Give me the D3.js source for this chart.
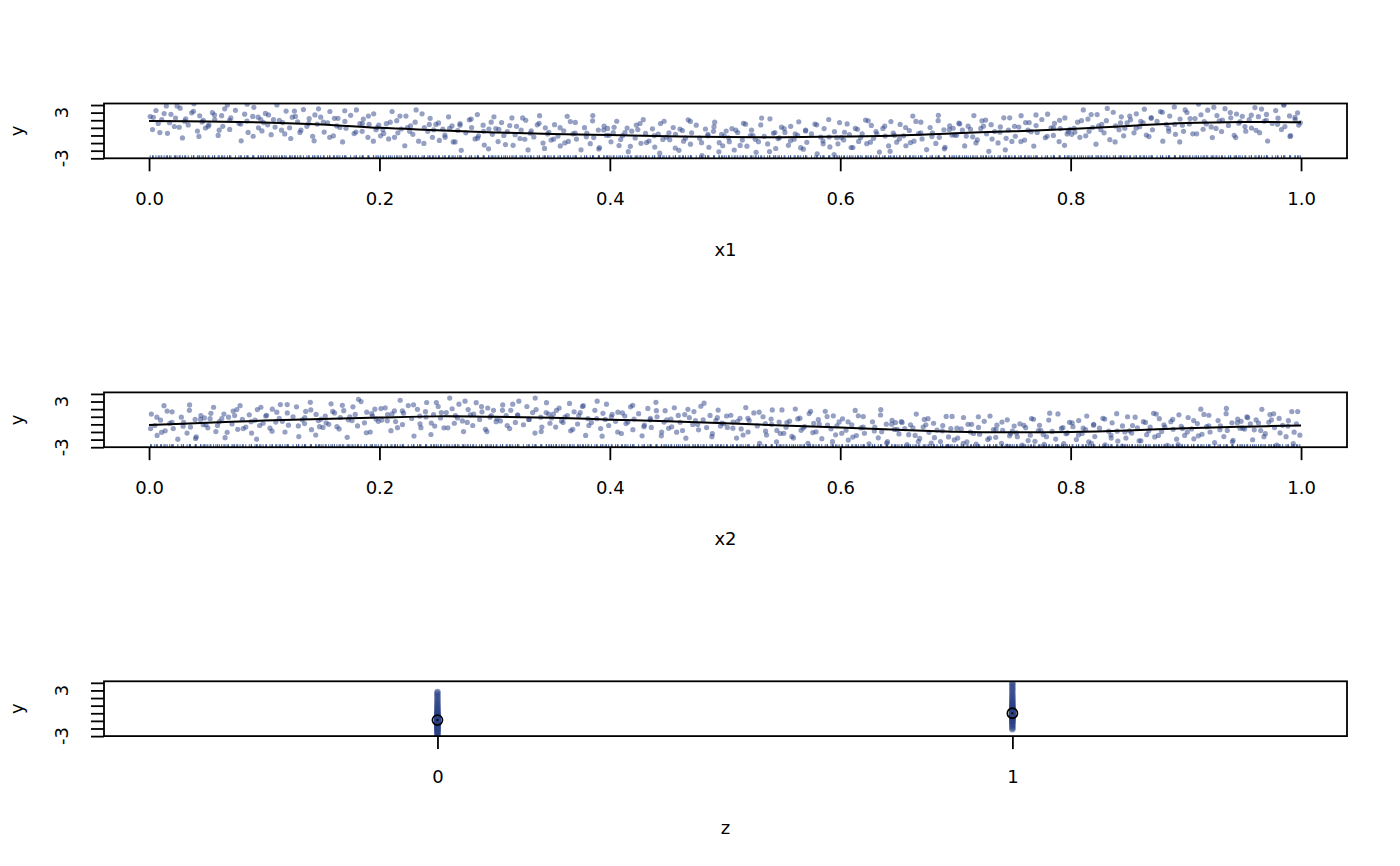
<!DOCTYPE html>
<html><head><meta charset="utf-8">
<script src="https://cdn.jsdelivr.net/npm/d3@7"></script>
<style>body{margin:0;background:#fff}svg{display:block}</style></head>
<body><svg id="c" width="1400" height="866"></svg>
<script>
// ---------- data ----------
const pts1 = [
[0.001,2.48],[0.003,0.78],[0.006,3.28],[0.008,1.58],[0.011,2.08],[0.015,3.88],[0.016,0.28],[0.019,2.78],[0.022,1.18],[0.023,2.28],[0.027,3.58],[0.029,-0.32],[0.031,1.88],[0.034,1.38],[0.037,2.98],[0.039,4.18],[0.042,0.58],[0.044,2.58],[0.046,1.78],[0.049,0.98],
[0.052,1.4],[0.055,3.0],[0.057,2.1],[0.060,0.0],[0.063,2.6],[0.064,1.2],[0.068,4.0],[0.070,0.8],[0.071,2.3],[0.075,3.3],[0.078,1.6],[0.080,-0.7],[0.083,2.8],[0.085,1.9],[0.086,0.4],[0.090,2.5],[0.091,3.7],[0.095,1.0],[0.097,2.1],[0.098,0.6],
[0.101,2.9],[0.103,1.4],[0.106,0.1],[0.108,2.1],[0.111,4.0],[0.115,0.7],[0.116,1.7],[0.119,3.2],[0.122,1.0],[0.123,-0.4],[0.127,2.5],[0.129,1.8],[0.131,0.4],[0.134,3.4],[0.137,1.2],[0.139,2.2],[0.142,-0.1],[0.144,2.7],[0.146,1.5],[0.149,2.4],
[0.152,0.45],[0.155,1.65],[0.157,3.15],[0.160,-0.05],[0.163,1.25],[0.164,2.25],[0.168,-0.85],[0.170,1.85],[0.171,0.95],[0.175,2.65],[0.178,0.25],[0.180,3.35],[0.183,1.55],[0.185,0.55],[0.186,2.15],[0.190,-0.25],[0.191,1.45],[0.195,2.85],[0.197,0.75],[0.198,1.05],
[0.201,-0.05],[0.203,0.75],[0.206,1.55],[0.208,-0.45],[0.211,3.15],[0.215,1.95],[0.216,0.35],[0.219,0.85],[0.222,-1.35],[0.223,2.55],[0.227,1.25],[0.229,0.15],[0.231,1.75],[0.234,-0.75],[0.237,2.85],[0.239,1.05],[0.242,0.55],[0.244,2.25],[0.246,-0.25],[0.249,1.45],
[0.252,-0.65],[0.255,0.85],[0.257,-0.25],[0.260,2.45],[0.263,1.25],[0.264,-0.85],[0.268,0.65],[0.270,1.55],[0.271,-1.95],[0.275,0.35],[0.278,2.05],[0.280,1.05],[0.283,-0.45],[0.285,2.75],[0.286,-0.05],[0.290,1.35],[0.291,-1.25],[0.295,0.85],[0.297,1.75],[0.298,0.15],
[0.301,0.9],[0.303,-0.8],[0.306,1.7],[0.308,0.0],[0.311,0.5],[0.315,2.3],[0.316,-1.3],[0.319,1.2],[0.322,-0.4],[0.323,0.7],[0.327,2.0],[0.329,-1.9],[0.331,0.3],[0.334,-0.2],[0.337,1.4],[0.339,2.6],[0.342,-1.0],[0.344,1.0],[0.346,0.2],[0.349,-0.6],
[0.352,1.42],[0.355,-0.08],[0.357,-1.38],[0.360,0.62],[0.363,2.52],[0.364,-0.78],[0.368,0.22],[0.370,1.72],[0.371,-0.48],[0.375,-1.88],[0.378,1.02],[0.380,0.32],[0.383,-1.08],[0.385,1.92],[0.386,-0.28],[0.390,0.72],[0.391,-1.58],[0.395,1.22],[0.397,0.02],[0.398,0.92],
[0.401,-0.83],[0.403,0.37],[0.406,1.87],[0.408,-1.33],[0.411,-0.03],[0.415,0.97],[0.416,-2.13],[0.419,0.57],[0.422,-0.33],[0.423,1.37],[0.427,-1.03],[0.429,2.07],[0.431,0.27],[0.434,-0.73],[0.437,0.87],[0.439,-1.53],[0.442,0.17],[0.444,1.57],[0.446,-0.53],[0.449,-0.23],
[0.452,-0.55],[0.455,1.05],[0.457,0.15],[0.460,-1.95],[0.463,0.65],[0.464,-0.75],[0.468,2.05],[0.470,-1.15],[0.471,0.35],[0.475,1.35],[0.478,-0.35],[0.480,-2.65],[0.483,0.85],[0.485,-0.05],[0.486,-1.55],[0.490,0.55],[0.491,1.75],[0.495,-0.95],[0.497,0.15],[0.498,-1.35],
[0.501,0.59],[0.503,-0.31],[0.506,0.89],[0.508,-1.91],[0.511,0.39],[0.515,-0.61],[0.516,1.59],[0.519,-1.41],[0.522,-0.01],[0.523,0.69],[0.527,-2.21],[0.529,-0.81],[0.531,1.39],[0.534,-0.11],[0.537,-1.11],[0.539,2.19],[0.542,0.29],[0.544,-1.71],[0.546,-0.41],[0.549,1.09],
[0.552,0.4],[0.555,-1.3],[0.557,1.2],[0.560,-0.5],[0.563,0.0],[0.564,1.8],[0.568,-1.8],[0.570,0.7],[0.571,-0.9],[0.575,0.2],[0.578,1.5],[0.580,-2.4],[0.583,-0.2],[0.585,-0.7],[0.586,0.9],[0.590,2.1],[0.591,-1.5],[0.595,0.5],[0.597,-0.3],[0.598,-1.1],
[0.601,-0.28],[0.603,-0.58],[0.606,1.52],[0.608,0.12],[0.611,-1.58],[0.615,0.82],[0.616,-0.78],[0.619,0.22],[0.622,2.02],[0.623,-1.08],[0.627,1.32],[0.629,-0.38],[0.631,0.52],[0.634,-2.18],[0.637,0.92],[0.639,-0.08],[0.642,-1.38],[0.644,1.82],[0.646,0.32],[0.649,-0.88],
[0.652,1.45],[0.655,-0.05],[0.657,-1.35],[0.660,0.65],[0.663,2.55],[0.664,-0.75],[0.668,0.25],[0.670,1.75],[0.671,-0.45],[0.675,-1.85],[0.678,1.05],[0.680,0.35],[0.683,-1.05],[0.685,1.95],[0.686,-0.25],[0.690,0.75],[0.691,-1.55],[0.695,1.25],[0.697,0.05],[0.698,0.95],
[0.701,0.02],[0.703,1.62],[0.706,0.72],[0.708,-1.38],[0.711,1.22],[0.715,-0.18],[0.716,2.62],[0.719,-0.58],[0.722,0.92],[0.723,1.92],[0.727,0.22],[0.729,-2.08],[0.731,1.42],[0.734,0.52],[0.737,-0.98],[0.739,1.12],[0.742,2.32],[0.744,-0.38],[0.746,0.72],[0.749,-0.78],
[0.752,-0.1],[0.755,1.1],[0.757,2.6],[0.760,-0.6],[0.763,0.7],[0.764,1.7],[0.768,-1.4],[0.770,1.3],[0.771,0.4],[0.775,2.1],[0.778,-0.3],[0.780,2.8],[0.783,1.0],[0.785,0.0],[0.786,1.6],[0.790,-0.8],[0.791,0.9],[0.795,2.3],[0.797,0.2],[0.798,0.5],
[0.801,0.15],[0.803,0.95],[0.806,1.75],[0.808,-0.25],[0.811,3.35],[0.815,2.15],[0.816,0.55],[0.819,1.05],[0.822,-1.15],[0.823,2.75],[0.827,1.45],[0.829,0.35],[0.831,1.95],[0.834,-0.55],[0.837,3.05],[0.839,1.25],[0.842,0.75],[0.844,2.45],[0.846,-0.05],[0.849,1.65],
[0.852,2.05],[0.855,0.35],[0.857,2.85],[0.860,1.15],[0.863,1.65],[0.864,3.45],[0.868,-0.15],[0.870,2.35],[0.871,0.75],[0.875,1.85],[0.878,3.15],[0.880,-0.75],[0.883,1.45],[0.885,0.95],[0.886,2.55],[0.890,3.75],[0.891,0.15],[0.895,2.15],[0.897,1.35],[0.898,0.55],
[0.901,3.02],[0.903,1.52],[0.906,0.22],[0.908,2.22],[0.911,4.12],[0.915,0.82],[0.916,1.82],[0.919,3.32],[0.922,1.12],[0.923,-0.28],[0.927,2.62],[0.929,1.92],[0.931,0.52],[0.934,3.52],[0.937,1.32],[0.939,2.32],[0.942,0.02],[0.944,2.82],[0.946,1.62],[0.949,2.52],
[0.952,0.57],[0.955,2.07],[0.957,0.97],[0.960,3.67],[0.963,2.47],[0.964,0.37],[0.968,1.87],[0.970,2.77],[0.971,-0.73],[0.975,1.57],[0.978,3.27],[0.980,2.27],[0.983,0.77],[0.985,3.97],[0.986,1.17],[0.990,2.57],[0.991,-0.03],[0.995,2.07],[0.997,2.97],[0.998,1.37]
];
const pts1Extra = [
[0.0037,2.38],[0.0094,0.38],[0.0131,2.88],[0.0178,1.68],[0.0243,3.88],[0.0262,1.08],[0.0318,2.18],[0.0386,3.18],[0.0433,-0.12],[0.0471,1.98],
[0.0513,1.2],[0.0568,2.7],[0.0609,0.7],[0.0657,3.5],[0.0699,2.0],[0.0796,1.5],[0.0852,4.1],[0.0904,-0.1],[0.0947,2.4],[0.0994,1.7],
[0.1037,2.7],[0.1094,1.1],[0.1131,2.0],[0.1178,0.2],[0.1243,2.4],[0.1262,3.2],[0.1318,0.7],[0.1386,1.6],[0.1433,-0.7],[0.1471,3.5],
[0.1513,1.75],[0.1568,-0.25],[0.1609,2.25],[0.1657,1.05],[0.1699,3.25],[0.1796,0.45],[0.1852,1.55],[0.1904,2.55],[0.1947,-0.75],[0.1994,1.35],
[0.2037,0.25],[0.2094,1.75],[0.2131,-0.25],[0.2178,2.55],[0.2243,1.05],[0.2262,0.55],[0.2318,3.35],[0.2386,-1.05],[0.2433,1.45],[0.2471,0.75],
[0.2513,1.65],[0.2568,0.05],[0.2609,0.95],[0.2657,-0.85],[0.2699,1.35],[0.2796,2.15],[0.2852,-0.35],[0.2904,0.55],[0.2947,-1.75],[0.2994,2.45],
[0.3037,0.8],[0.3094,-1.2],[0.3131,1.3],[0.3178,0.1],[0.3243,2.3],[0.3262,-0.5],[0.3318,0.6],[0.3386,1.6],[0.3433,-1.7],[0.3471,0.4],
[0.3513,-0.48],[0.3568,1.02],[0.3609,-0.98],[0.3657,1.82],[0.3699,0.32],[0.3796,-0.18],[0.3852,2.62],[0.3904,-1.78],[0.3947,0.72],[0.3994,0.02],
[0.4037,1.07],[0.4094,-0.53],[0.4131,0.37],[0.4178,-1.43],[0.4243,0.77],[0.4262,1.57],[0.4318,-0.93],[0.4386,-0.03],[0.4433,-2.33],[0.4471,1.87],
[0.4513,0.35],[0.4568,-1.65],[0.4609,0.85],[0.4657,-0.35],[0.4699,1.85],[0.4796,-0.95],[0.4852,0.15],[0.4904,1.15],[0.4947,-2.15],[0.4994,-0.05],
[0.5037,-0.81],[0.5094,0.69],[0.5131,-1.31],[0.5178,1.49],[0.5243,-0.01],[0.5262,-0.51],[0.5318,2.29],[0.5386,-2.11],[0.5433,0.39],[0.5471,-0.31],
[0.5513,0.9],[0.5568,-0.7],[0.5609,0.2],[0.5657,-1.6],[0.5699,0.6],[0.5796,1.4],[0.5852,-1.1],[0.5904,-0.2],[0.5947,-2.5],[0.5994,1.7],
[0.6037,0.42],[0.6094,-1.58],[0.6131,0.92],[0.6178,-0.28],[0.6243,1.92],[0.6262,-0.88],[0.6318,0.22],[0.6386,1.22],[0.6433,-2.08],[0.6471,0.02],
[0.6513,-0.45],[0.6568,1.05],[0.6609,-0.95],[0.6657,1.85],[0.6699,0.35],[0.6796,-0.15],[0.6852,2.65],[0.6904,-1.75],[0.6947,0.75],[0.6994,0.05],
[0.7037,1.52],[0.7094,-0.08],[0.7131,0.82],[0.7178,-0.98],[0.7243,1.22],[0.7262,2.02],[0.7318,-0.48],[0.7386,0.42],[0.7433,-1.88],[0.7471,2.32],
[0.7513,1.2],[0.7568,-0.8],[0.7609,1.7],[0.7657,0.5],[0.7699,2.7],[0.7796,-0.1],[0.7852,1.0],[0.7904,2.0],[0.7947,-1.3],[0.7994,0.8],
[0.8037,0.45],[0.8094,1.95],[0.8131,-0.05],[0.8178,2.75],[0.8243,1.25],[0.8262,0.75],[0.8318,3.55],[0.8386,-0.85],[0.8433,1.65],[0.8471,0.95],
[0.8513,2.55],[0.8568,0.95],[0.8609,1.85],[0.8657,0.05],[0.8699,2.25],[0.8796,3.05],[0.8852,0.55],[0.8904,1.45],[0.8947,-0.85],[0.8994,3.35],
[0.9037,2.22],[0.9094,0.22],[0.9131,2.72],[0.9178,1.52],[0.9243,3.72],[0.9262,0.92],[0.9318,2.02],[0.9386,3.02],[0.9433,-0.28],[0.9471,1.82],
[0.9513,1.17],[0.9568,2.67],[0.9609,0.67],[0.9657,3.47],[0.9699,1.97],[0.9796,1.47],[0.9852,4.1],[0.9904,-0.13],[0.9947,2.37],[0.9994,1.67]
];
const pts2 = [
[0.002,1.35],[0.005,-0.15],[0.007,-1.45],[0.010,0.55],[0.013,2.45],[0.014,-0.85],[0.018,0.15],[0.020,1.65],[0.021,-0.55],[0.025,-1.95],[0.028,0.95],[0.030,0.25],[0.033,-1.15],[0.035,1.85],[0.036,-0.35],[0.040,0.65],[0.041,-1.65],[0.045,1.15],[0.047,-0.05],[0.048,0.85],
[0.051,-0.45],[0.053,0.75],[0.056,2.25],[0.058,-0.95],[0.061,0.35],[0.065,1.35],[0.066,-1.75],[0.069,0.95],[0.072,0.05],[0.073,1.75],[0.077,-0.65],[0.079,2.45],[0.081,0.65],[0.084,-0.35],[0.087,1.25],[0.089,-1.15],[0.092,0.55],[0.094,1.95],[0.096,-0.15],[0.099,0.15],
[0.102,1.2],[0.105,-0.5],[0.107,2.0],[0.110,0.3],[0.113,0.8],[0.114,2.6],[0.118,-1.0],[0.120,1.5],[0.121,-0.1],[0.125,1.0],[0.128,2.3],[0.130,-1.6],[0.133,0.6],[0.135,0.1],[0.136,1.7],[0.140,2.9],[0.141,-0.7],[0.145,1.3],[0.147,0.5],[0.148,-0.3],
[0.151,-0.4],[0.153,1.1],[0.156,0.0],[0.158,2.7],[0.161,1.5],[0.165,-0.6],[0.166,0.9],[0.169,1.8],[0.172,-1.7],[0.173,0.6],[0.177,2.3],[0.179,1.3],[0.181,-0.2],[0.184,3.0],[0.187,0.2],[0.189,1.6],[0.192,-1.0],[0.194,1.1],[0.196,2.0],[0.199,0.4],
[0.202,0.57],[0.205,2.17],[0.207,1.27],[0.210,-0.83],[0.213,1.77],[0.214,0.37],[0.218,3.17],[0.220,-0.03],[0.221,1.47],[0.225,2.47],[0.228,0.77],[0.230,-1.53],[0.233,1.97],[0.235,1.07],[0.236,-0.43],[0.240,1.67],[0.241,2.87],[0.245,0.17],[0.247,1.27],[0.248,-0.23],
[0.251,2.35],[0.253,0.85],[0.256,-0.45],[0.258,1.55],[0.261,3.45],[0.265,0.15],[0.266,1.15],[0.269,2.65],[0.272,0.45],[0.273,-0.95],[0.277,1.95],[0.279,1.25],[0.281,-0.15],[0.284,2.85],[0.287,0.65],[0.289,1.65],[0.292,-0.65],[0.294,2.15],[0.296,0.95],[0.299,1.85],
[0.302,0.75],[0.305,0.45],[0.307,2.55],[0.310,1.15],[0.313,-0.55],[0.314,1.85],[0.318,0.25],[0.320,1.25],[0.321,3.05],[0.325,-0.05],[0.328,2.35],[0.330,0.65],[0.333,1.55],[0.335,-1.15],[0.336,1.95],[0.340,0.95],[0.341,-0.35],[0.345,2.85],[0.347,1.35],[0.348,0.15],
[0.351,1.35],[0.353,-0.35],[0.356,2.15],[0.358,0.45],[0.361,0.95],[0.365,2.75],[0.366,-0.85],[0.369,1.65],[0.372,0.05],[0.373,1.15],[0.377,2.45],[0.379,-1.45],[0.381,0.75],[0.384,0.25],[0.387,1.85],[0.389,3.05],[0.392,-0.55],[0.394,1.45],[0.396,0.65],[0.399,-0.15],
[0.402,1.3],[0.405,0.4],[0.407,1.6],[0.410,-1.2],[0.413,1.1],[0.414,0.1],[0.418,2.3],[0.420,-0.7],[0.421,0.7],[0.425,1.4],[0.428,-1.5],[0.430,-0.1],[0.433,2.1],[0.435,0.6],[0.436,-0.4],[0.440,2.9],[0.441,1.0],[0.445,-1.0],[0.447,0.3],[0.448,1.8],
[0.451,-0.52],[0.453,0.68],[0.456,2.18],[0.458,-1.02],[0.461,0.28],[0.465,1.28],[0.466,-1.82],[0.469,0.88],[0.472,-0.02],[0.473,1.68],[0.477,-0.72],[0.479,2.38],[0.481,0.58],[0.484,-0.42],[0.487,1.18],[0.489,-1.22],[0.492,0.48],[0.494,1.88],[0.496,-0.22],[0.499,0.08],
[0.502,-0.4],[0.505,1.2],[0.507,0.3],[0.510,-1.8],[0.513,0.8],[0.514,-0.6],[0.518,2.2],[0.520,-1.0],[0.521,0.5],[0.525,1.5],[0.528,-0.2],[0.530,-2.5],[0.533,1.0],[0.535,0.1],[0.536,-1.4],[0.540,0.7],[0.541,1.9],[0.545,-0.8],[0.547,0.3],[0.548,-1.2],
[0.551,-1.18],[0.553,-0.38],[0.556,0.42],[0.558,-1.58],[0.561,2.02],[0.565,0.82],[0.566,-0.78],[0.569,-0.28],[0.572,-2.48],[0.573,1.42],[0.577,0.12],[0.579,-0.98],[0.581,0.62],[0.584,-1.88],[0.587,1.72],[0.589,-0.08],[0.592,-0.58],[0.594,1.12],[0.596,-1.38],[0.599,0.32],
[0.602,0.73],[0.605,-0.77],[0.607,-2.07],[0.610,-0.07],[0.613,1.83],[0.614,-1.47],[0.618,-0.47],[0.620,1.03],[0.621,-1.17],[0.625,-2.57],[0.628,0.33],[0.630,-0.37],[0.633,-1.77],[0.635,1.23],[0.636,-0.97],[0.640,0.03],[0.641,-2.27],[0.645,0.53],[0.647,-0.67],[0.648,0.23],
[0.651,-1.25],[0.653,0.35],[0.656,-0.55],[0.658,-2.65],[0.661,-0.05],[0.665,-1.45],[0.666,1.35],[0.669,-1.85],[0.672,-0.35],[0.673,0.65],[0.677,-1.05],[0.679,-2.45],[0.681,0.15],[0.684,-0.75],[0.687,-2.25],[0.689,-0.15],[0.692,1.05],[0.694,-1.65],[0.696,-0.55],[0.699,-2.05],
[0.702,-1.8],[0.705,-0.6],[0.707,0.9],[0.710,-2.3],[0.713,-1.0],[0.714,0.0],[0.718,-2.6],[0.720,-0.4],[0.721,-1.3],[0.725,0.4],[0.728,-2.0],[0.730,1.1],[0.733,-0.7],[0.735,-1.7],[0.736,-0.1],[0.740,-2.5],[0.741,-0.8],[0.745,0.6],[0.747,-1.5],[0.748,-1.2],
[0.751,-0.23],[0.753,-1.13],[0.756,0.07],[0.758,-2.73],[0.761,-0.43],[0.765,-1.43],[0.766,0.77],[0.769,-2.23],[0.772,-0.83],[0.773,-0.13],[0.777,-2.63],[0.779,-1.63],[0.781,0.57],[0.784,-0.93],[0.787,-1.93],[0.789,1.37],[0.792,-0.53],[0.794,-2.53],[0.796,-1.23],[0.799,0.27],
[0.802,-0.3],[0.805,-2.0],[0.807,0.5],[0.810,-1.2],[0.813,-0.7],[0.814,1.1],[0.818,-2.5],[0.820,0.0],[0.821,-1.6],[0.825,-0.5],[0.828,0.8],[0.830,-2.7],[0.833,-0.9],[0.835,-1.4],[0.836,0.2],[0.840,1.4],[0.841,-2.2],[0.845,-0.2],[0.847,-1.0],[0.848,-1.8],
[0.851,-0.85],[0.853,-1.15],[0.856,0.95],[0.858,-0.45],[0.861,-2.15],[0.865,0.25],[0.866,-1.35],[0.869,-0.35],[0.872,1.45],[0.873,-1.65],[0.877,0.75],[0.879,-0.95],[0.881,-0.05],[0.884,-2.75],[0.887,0.35],[0.889,-0.65],[0.892,-1.95],[0.894,1.25],[0.896,-0.25],[0.899,-1.45],
[0.902,0.9],[0.905,-0.6],[0.907,-1.9],[0.910,0.1],[0.913,2.0],[0.914,-1.3],[0.918,-0.3],[0.920,1.2],[0.921,-1.0],[0.925,-2.4],[0.928,0.5],[0.930,-0.2],[0.933,-1.6],[0.935,1.4],[0.936,-0.8],[0.940,0.2],[0.941,-2.1],[0.945,0.7],[0.947,-0.5],[0.948,0.4],
[0.951,-0.62],[0.953,0.98],[0.956,0.08],[0.958,-2.02],[0.961,0.58],[0.965,-0.82],[0.966,1.98],[0.969,-1.22],[0.972,0.28],[0.973,1.28],[0.977,-0.42],[0.979,-2.72],[0.981,0.78],[0.984,-0.12],[0.987,-1.62],[0.989,0.48],[0.992,1.68],[0.994,-1.02],[0.996,0.08],[0.999,-1.42]
];
const pts2Extra = [
[0.0013,-0.55],[0.0068,0.95],[0.0109,-1.05],[0.0157,1.75],[0.0199,0.25],[0.0296,-0.25],[0.0352,2.55],[0.0404,-1.85],[0.0447,0.65],[0.0494,-0.05],
[0.0537,1.45],[0.0594,-0.15],[0.0631,0.75],[0.0678,-1.05],[0.0743,1.15],[0.0762,1.95],[0.0818,-0.55],[0.0886,0.35],[0.0933,-1.95],[0.0971,2.25],
[0.1013,1.1],[0.1068,-0.9],[0.1109,1.6],[0.1157,0.4],[0.1199,2.6],[0.1296,-0.2],[0.1352,0.9],[0.1404,1.9],[0.1447,-1.4],[0.1494,0.7],
[0.1537,0.2],[0.1594,1.7],[0.1631,-0.3],[0.1678,2.5],[0.1743,1.0],[0.1762,0.5],[0.1818,3.3],[0.1886,-1.1],[0.1933,1.4],[0.1971,0.7],
[0.2013,2.07],[0.2068,0.47],[0.2109,1.37],[0.2157,-0.43],[0.2199,1.77],[0.2296,2.57],[0.2352,0.07],[0.2404,0.97],[0.2447,-1.33],[0.2494,2.87],
[0.2537,1.55],[0.2594,-0.45],[0.2631,2.05],[0.2678,0.85],[0.2743,3.05],[0.2762,0.25],[0.2818,1.35],[0.2886,2.35],[0.2933,-0.95],[0.2971,1.15],
[0.3013,0.35],[0.3068,1.85],[0.3109,-0.15],[0.3157,2.65],[0.3199,1.15],[0.3296,0.65],[0.3352,3.45],[0.3404,-0.95],[0.3447,1.55],[0.3494,0.85],
[0.3537,1.85],[0.3594,0.25],[0.3631,1.15],[0.3678,-0.65],[0.3743,1.55],[0.3762,2.35],[0.3818,-0.15],[0.3886,0.75],[0.3933,-1.55],[0.3971,2.65],
[0.4013,1.0],[0.4068,-1.0],[0.4109,1.5],[0.4157,0.3],[0.4199,2.5],[0.4296,-0.3],[0.4352,0.8],[0.4404,1.8],[0.4447,-1.5],[0.4494,0.6],
[0.4537,-0.32],[0.4594,1.18],[0.4631,-0.82],[0.4678,1.98],[0.4743,0.48],[0.4762,-0.02],[0.4818,2.78],[0.4886,-1.62],[0.4933,0.88],[0.4971,0.18],
[0.5013,1.1],[0.5068,-0.5],[0.5109,0.4],[0.5157,-1.4],[0.5199,0.8],[0.5296,1.6],[0.5352,-0.9],[0.5404,0.0],[0.5447,-2.3],[0.5494,1.9],
[0.5537,0.22],[0.5594,-1.78],[0.5631,0.72],[0.5678,-0.48],[0.5743,1.72],[0.5762,-1.08],[0.5818,0.02],[0.5886,1.02],[0.5933,-2.28],[0.5971,-0.18],
[0.6013,-1.17],[0.6068,0.33],[0.6109,-1.67],[0.6157,1.13],[0.6199,-0.37],[0.6296,-0.87],[0.6352,1.93],[0.6404,-2.47],[0.6447,0.03],[0.6494,-0.67],
[0.6537,0.25],[0.6594,-1.35],[0.6631,-0.45],[0.6678,-2.25],[0.6743,-0.05],[0.6762,0.75],[0.6818,-1.75],[0.6886,-0.85],[0.6933,-2.9],[0.6971,1.05],
[0.7013,-0.5],[0.7068,-2.5],[0.7109,0.0],[0.7157,-1.2],[0.7199,1.0],[0.7296,-1.8],[0.7352,-0.7],[0.7404,0.3],[0.7447,-2.85],[0.7494,-0.9],
[0.7537,-1.63],[0.7594,-0.13],[0.7631,-2.13],[0.7678,0.67],[0.7743,-0.83],[0.7762,-1.33],[0.7818,1.47],[0.7886,-2.93],[0.7933,-0.43],[0.7971,-1.13],
[0.8013,0.2],[0.8068,-1.4],[0.8109,-0.5],[0.8157,-2.3],[0.8199,-0.1],[0.8296,0.7],[0.8352,-1.8],[0.8404,-0.9],[0.8447,-2.85],[0.8494,1.0],
[0.8537,-0.15],[0.8594,-2.15],[0.8631,0.35],[0.8678,-0.85],[0.8743,1.35],[0.8762,-1.45],[0.8818,-0.35],[0.8886,0.65],[0.8933,-2.65],[0.8971,-0.55],
[0.9013,-1.0],[0.9068,0.5],[0.9109,-1.5],[0.9157,1.3],[0.9199,-0.2],[0.9296,-0.7],[0.9352,2.1],[0.9404,-2.3],[0.9447,0.2],[0.9494,-0.5],
[0.9537,0.88],[0.9594,-0.72],[0.9631,0.18],[0.9678,-1.62],[0.9743,0.58],[0.9762,1.38],[0.9818,-1.12],[0.9886,-0.22],[0.9933,-2.52],[0.9971,1.68]
];
const fitX = [0,0.05,0.1,0.15,0.2,0.25,0.3,0.35,0.4,0.45,0.5,0.55,0.6,0.65,0.7,0.75,0.8,0.85,0.9,0.95,1.0];
const fit1 = [1.90,1.85,1.72,1.45,1.0,0.7,0.4,0.2,0.05,-0.1,-0.2,-0.22,-0.15,0.0,0.3,0.55,0.86,1.25,1.65,1.78,1.75];
const fit2 = [-0.07,0.2,0.5,0.72,0.9,1.05,1.0,0.88,0.62,0.4,0.15,-0.15,-0.42,-0.72,-0.97,-1.05,-1.0,-0.8,-0.5,-0.3,-0.15];
const zLevels = [0,1];
const zPts0 = [-3.0,-2.8,-2.7,-2.5,-2.4,-2.3,-2.2,-2.1,-2.0,-1.9,-1.85,-1.8,-1.7,-1.6,-1.55,-1.5,-1.4,-1.35,-1.3,-1.2,-1.15,-1.1,-1.05,-1.0,-0.95,-0.9,-0.9,-0.85,-0.8,-0.75,-0.7,-0.65,-0.6,-0.55,-0.5,-0.4,-0.35,-0.3,-0.2,-0.1,0.0,0.1,0.2,0.35,0.5,0.65,0.8,1.0,1.2,1.4,1.6,1.85,2.1,2.35,2.6,2.8];
const zPts1 = [-2.1,-1.9,-1.7,-1.5,-1.35,-1.2,-1.1,-1.0,-0.9,-0.8,-0.75,-0.7,-0.6,-0.55,-0.5,-0.4,-0.35,-0.3,-0.25,-0.2,-0.15,-0.1,-0.05,0.0,0.0,0.05,0.1,0.15,0.2,0.25,0.3,0.4,0.45,0.5,0.6,0.7,0.8,0.9,1.0,1.1,1.25,1.4,1.55,1.7,1.9,2.1,2.3,2.55,2.8,3.05,3.3,3.55,3.8,4.0];
const zFit = [-0.9,0.0];
const yTicks = [-3,-2,-1,0,1,2,3,4];
const yTickLabels = [-3,3];
const xTicks = [0,0.2,0.4,0.6,0.8,1.0];
const xTitles = ["x1","x2","z"];

// ---------- drawing ----------
const svg = d3.select("#c");
const L = 104, R = 1347, H = 54.8;
const tops = [103.5, 392.4, 681.3];
const ptCol = "#2b4187";
const font = "DejaVu Sans, sans-serif";

function frame(i, xs) {
  const top = tops[i], bot = top + H;
  const y = d3.scaleLinear().domain([-3, 4.2]).range([bot, top]);
  const g = svg.append("g");
  const ya = g.append("g").attr("transform", `translate(${L},0)`)
    .call(d3.axisLeft(y).tickValues(yTicks).tickSize(13).tickFormat(""));
  ya.select(".domain").remove();
  ya.selectAll("line").attr("stroke", "#000").attr("stroke-width", 1.8);
  yTickLabels.forEach(v => {
    g.append("text").attr("transform", `translate(68,${y(v)}) rotate(-90)`)
      .attr("text-anchor", "middle").attr("font-family", font).attr("font-size", 18)
      .text(v);
  });
  g.append("text").attr("transform", `translate(23,${top + H / 2}) rotate(-90)`)
    .attr("text-anchor", "middle").attr("font-family", font).attr("font-size", 18).text("y");
  const xa = g.append("g").attr("transform", `translate(0,${bot})`)
    .call(d3.axisBottom(xs).tickValues(i < 2 ? xTicks : zLevels).tickSize(13)
      .tickPadding(21).tickFormat(i < 2 ? d3.format(".1f") : d3.format("d")));
  xa.select(".domain").remove();
  xa.selectAll("line").attr("stroke", "#000").attr("stroke-width", 1.8);
  xa.selectAll("text").attr("font-family", font).attr("font-size", 18).attr("fill", "#000");
  g.append("text").attr("x", (L + R) / 2).attr("y", bot + 97.7)
    .attr("text-anchor", "middle").attr("font-family", font).attr("font-size", 18).text(xTitles[i]);
  const cid = "clip" + i;
  svg.append("clipPath").attr("id", cid).append("rect")
    .attr("x", L).attr("y", top).attr("width", R - L).attr("height", H);
  const plot = svg.append("g").attr("clip-path", `url(#${cid})`);
  return {g, y, plot, top, bot};
}

function box(f) {
  svg.append("rect").attr("x", L).attr("y", f.top).attr("width", R - L).attr("height", H)
    .attr("fill", "none").attr("stroke", "#000").attr("stroke-width", 1.8);
}

const xs = d3.scaleLinear().domain([-0.0391, 1.0399]).range([L, R]);
[[pts1.concat(pts1Extra), fit1], [pts2.concat(pts2Extra), fit2]].forEach(([pts, fit], i) => {
  const f = frame(i, xs);
  f.plot.selectAll("line.rug").data(pts).join("line").attr("class", "rug")
    .attr("x1", d => xs(d[0])).attr("x2", d => xs(d[0]))
    .attr("y1", f.bot).attr("y2", f.bot - 3)
    .attr("stroke", "#2f4f93").attr("stroke-width", 1).attr("opacity", 0.9);
  f.plot.selectAll("circle.pt").data(pts).join("circle").attr("class", "pt")
    .attr("cx", d => xs(d[0])).attr("cy", d => f.y(d[1])).attr("r", 2.6)
    .attr("fill", ptCol).attr("fill-opacity", 0.5);
  const line = d3.line().x((d, j) => xs(fitX[j])).y(d => f.y(d)).curve(d3.curveCatmullRom);
  f.plot.append("path").datum(fit).attr("d", line)
    .attr("fill", "none").attr("stroke", "#000").attr("stroke-width", 2);
  box(f);
});

const xz = d3.scaleLinear().domain([-0.58, 1.582]).range([L, R]);
{
  const f = frame(2, xz);
  [zPts0, zPts1].forEach((arr, k) => {
    f.plot.selectAll("circle.z" + k).data(arr).join("circle").attr("class", "z" + k)
      .attr("cx", xz(zLevels[k])).attr("cy", d => f.y(d)).attr("r", 3.2)
      .attr("fill", ptCol).attr("fill-opacity", 0.55);
  });
  f.plot.selectAll("circle.fit").data(zFit).join("circle").attr("class", "fit")
    .attr("cx", (d, k) => xz(zLevels[k])).attr("cy", d => f.y(d)).attr("r", 5)
    .attr("fill", "none").attr("stroke", "#000").attr("stroke-width", 1.8);
  f.plot.selectAll("circle.fitc").data(zFit).join("circle").attr("class", "fitc")
    .attr("cx", (d, k) => xz(zLevels[k])).attr("cy", d => f.y(d)).attr("r", 1.1)
    .attr("fill", "#000");
  box(f);
}
</script></body></html>
